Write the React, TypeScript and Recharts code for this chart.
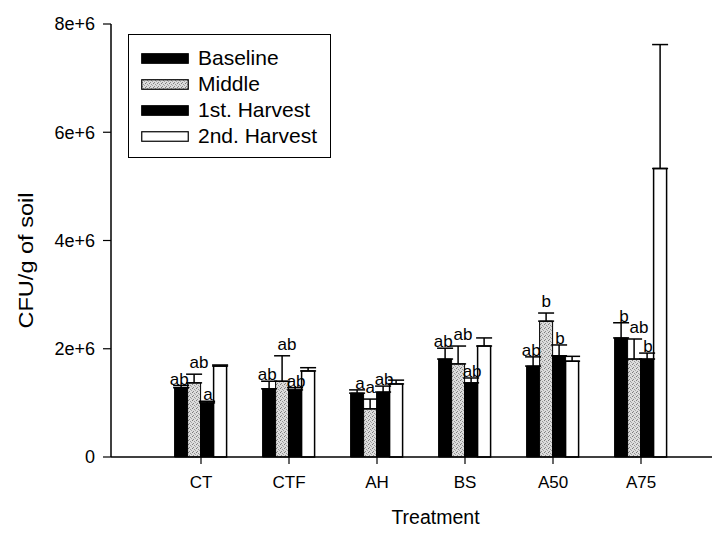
import React from "react";
import {
  BarChart,
  Bar,
  XAxis,
  YAxis,
  ErrorBar,
  LabelList,
  Legend,
  Label,
} from "recharts";

// values in units of 1e6 CFU/g
const treatments = ["CT", "CTF", "AH", "BS", "A50", "A75"];
const baseline = [1.28, 1.26, 1.18, 1.81, 1.68, 2.2];
const baselineErr = [0.04, 0.14, 0.06, 0.2, 0.17, 0.28];
const middle = [1.37, 1.4, 0.89, 1.72, 2.51, 1.81];
const middleErr = [0.16, 0.47, 0.18, 0.33, 0.15, 0.37];
const harvest1 = [1.0, 1.24, 1.2, 1.37, 1.87, 1.81];
const harvest1Err = [0.03, 0.04, 0.11, 0.09, 0.2, 0.11];
const harvest2 = [1.68, 1.59, 1.35, 2.05, 1.77, 5.33];
const harvest2Err = [0.02, 0.06, 0.07, 0.15, 0.09, 2.29];

const baselineSig = ["ab", "ab", "a", "ab", "ab", "b"];
const middleSig = ["ab", "ab", "a", "ab", "b", "ab"];
const harvest1Sig = ["a", "ab", "ab", "ab", "b", "b"];

const yTicks = [0, 2, 4, 6, 8];

const FONT = '"Liberation Sans", Arial, Helvetica, sans-serif';

const chartData = treatments.map((t, i) => ({
  treatment: t,
  baseline: baseline[i],
  baselineErr: [0, baselineErr[i]],
  baselineSig: baselineSig[i],
  middle: middle[i],
  middleErr: [0, middleErr[i]],
  middleSig: middleSig[i],
  harvest1: harvest1[i],
  harvest1Err: [0, harvest1Err[i]],
  harvest1Sig: harvest1Sig[i],
  harvest2: harvest2[i],
  harvest2Err: [0, harvest2Err[i]],
}));

const legendItems = [
  { name: "Baseline", fill: "#000" },
  { name: "Middle", fill: "url(#stipple)" },
  { name: "1st. Harvest", fill: "#000" },
  { name: "2nd. Harvest", fill: "#fff" },
];

type Anchor = "start" | "middle" | "end";

// letter placed next to / above the error bar cap
function makeSigLabel(values: number[], errs: number[], anchor: Anchor, dy: number) {
  return function SigLabel(props: any) {
    const vb = props.viewBox && props.viewBox.width != null ? props.viewBox : props;
    const idx = props.index;
    const text = props.value;
    if (!text || idx == null) return null;
    const v = values[idx];
    const pxPerUnit = vb.height / v;
    const top = vb.y - errs[idx] * pxPerUnit;
    let x = vb.x + vb.width / 2 + 1;
    if (anchor === "end") x = vb.x + vb.width + 1;
    if (anchor === "start") x = vb.x + 2;
    return (
      <text x={x} y={top + dy} textAnchor={anchor} fontSize={17} fill="#000">
        {text}
      </text>
    );
  };
}

function LegendBox() {
  return (
    <div
      style={{
        position: "relative",
        boxSizing: "border-box",
        width: 203,
        height: 124,
        border: "1.5px solid #000",
        background: "#fff",
        fontFamily: FONT,
      }}
    >
      {legendItems.map((item, i) => (
        <div
          key={item.name}
          style={{
            position: "absolute",
            left: 12,
            top: 10 + i * 26,
            height: 26,
            display: "flex",
            alignItems: "center",
            whiteSpace: "nowrap",
          }}
        >
          <svg width={48} height={11} style={{ display: "block" }}>
            <rect x={0.75} y={0.75} width={46.5} height={9.5} fill={item.fill} stroke="#000" strokeWidth={1.2} />
          </svg>
          <span style={{ marginLeft: 9, fontSize: 21, color: "#000" }}>{item.name}</span>
        </div>
      ))}
    </div>
  );
}

export default function App() {
  return (
    <div
      style={{
        margin: -8,
        width: 720,
        height: 533,
        overflow: "hidden",
        background: "#fff",
        fontFamily: FONT,
      }}
    >
      <BarChart
        width={760}
        height={533}
        data={chartData}
        margin={{ top: 24, right: 0, bottom: 0, left: 0 }}
        barCategoryGap="20%"
        barGap={0}
      >
        <defs>
          <pattern id="stipple" width={4} height={4} patternUnits="userSpaceOnUse">
            <rect width={4} height={4} fill="#dcdcdc" />
            <rect x={0} y={0} width={1} height={1} fill="#7a7a7a" />
            <rect x={2} y={1} width={1} height={1} fill="#959595" />
            <rect x={1} y={3} width={1} height={1} fill="#8a8a8a" />
            <rect x={3} y={2} width={1} height={1} fill="#a5a5a5" />
          </pattern>
        </defs>
        <XAxis
          dataKey="treatment"
          height={76}
          padding={{ left: 46, right: 75 }}
          axisLine={{ stroke: "#000", strokeWidth: 1.5 }}
          tickLine={{ stroke: "#000", strokeWidth: 1.2 }}
          tickSize={7}
          tickMargin={12}
          tick={{ fill: "#000", fontSize: 17 }}
        >
          <Label
            content={(p: any) => {
              const vb = p.viewBox;
              return (
                <text x={vb.x + vb.width / 2} y={vb.y + 67} textAnchor="middle" fontSize={19.5} fill="#000">
                  Treatment
                </text>
              );
            }}
          />
        </XAxis>
        <YAxis
          width={111}
          domain={[0, 8]}
          ticks={yTicks}
          tickFormatter={(v: number) => (v === 0 ? "0" : `${v}e+6`)}
          axisLine={{ stroke: "#000", strokeWidth: 1.5 }}
          tickLine={{ stroke: "#000", strokeWidth: 1.2 }}
          tickSize={8}
          tickMargin={8}
          tick={{ fill: "#000", fontSize: 18 }}
        >
          <Label
            content={(p: any) => {
              const vb = p.viewBox;
              const cx = vb.x + 33;
              const cy = vb.y + vb.height / 2 + 20;
              return (
                <text
                  x={cx}
                  y={cy}
                  transform={`rotate(-90 ${cx} ${cy})`}
                  textAnchor="middle"
                  fontSize={20}
                  textLength={136}
                  lengthAdjust="spacingAndGlyphs"
                  fill="#000"
                >
                  CFU/g of soil
                </text>
              );
            }}
          />
        </YAxis>
        <Legend
          layout="horizontal"
          verticalAlign="middle"
          align="center"
          wrapperStyle={{ left: 128, top: 34, width: 203, height: 124 }}
          content={() => <LegendBox />}
        />
        <Bar dataKey="baseline" name="Baseline" fill="#000" stroke="#000" strokeWidth={1} isAnimationActive={false}>
          <ErrorBar dataKey="baselineErr" width={8} stroke="#000" strokeWidth={1.5} />
          <LabelList dataKey="baselineSig" content={makeSigLabel(baseline, baselineErr, "end", -1)} />
        </Bar>
        <Bar dataKey="middle" name="Middle" fill="url(#stipple)" stroke="#000" strokeWidth={1} isAnimationActive={false}>
          <ErrorBar dataKey="middleErr" width={8} stroke="#000" strokeWidth={1.5} />
          <LabelList dataKey="middleSig" content={makeSigLabel(middle, middleErr, "start", -6)} />
        </Bar>
        <Bar dataKey="harvest1" name="1st. Harvest" fill="#000" stroke="#000" strokeWidth={1} isAnimationActive={false}>
          <ErrorBar dataKey="harvest1Err" width={8} stroke="#000" strokeWidth={1.5} />
          <LabelList dataKey="harvest1Sig" content={makeSigLabel(harvest1, harvest1Err, "middle", -1)} />
        </Bar>
        <Bar dataKey="harvest2" name="2nd. Harvest" fill="#fff" stroke="#000" strokeWidth={1.5} isAnimationActive={false}>
          <ErrorBar dataKey="harvest2Err" width={8} stroke="#000" strokeWidth={1.5} />
        </Bar>
      </BarChart>
    </div>
  );
}
